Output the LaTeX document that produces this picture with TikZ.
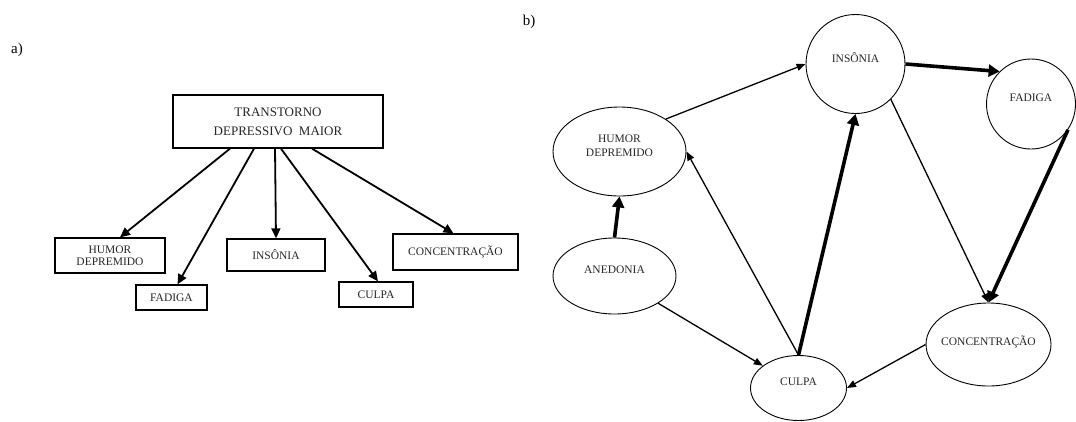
\documentclass[tikz,border=0pt]{standalone}
\usepackage{fontspec}
\setmainfont{Liberation Serif}
\usepackage{xcolor}
\definecolor{txtGray}{HTML}{262626}
\usepackage{tikz}
\usetikzlibrary{arrows.meta,shapes.geometric}

\begin{document}
\begin{tikzpicture}[x=1pt,y=-1pt,
    box/.style={draw, line width=1.3pt, rectangle, inner sep=0pt, align=center,
      text=txtGray, font=\fontsize{11.5}{12.5}\selectfont},
    oval/.style={draw, line width=0.9pt, ellipse, inner sep=0pt},
    lbl/.style={align=center, text=txtGray, font=\fontsize{11.5}{14}\selectfont, yshift=6pt},
    tree/.style={line width=1.8pt, -{Triangle[length=10pt,width=9pt]}},
    thin/.style={line width=1.3pt, -{Triangle[length=9pt,width=7pt]}},
    thick/.style={line width=3.6pt, -{Triangle[length=11pt,width=12pt]}}]
  \useasboundingbox (0,0) rectangle (1076,421);
  % panel labels
  \node[font=\fontsize{15}{16}\selectfont] (la) at (17,50) {a)};
  \node[font=\fontsize{15}{16}\selectfont] (lb) at (529,22) {b)};

  % a) the diagnosis and its symptoms
  \node[box, minimum width=210pt, minimum height=53pt, font=\fontsize{13}{19}\selectfont]
    (tdm) at (278,121.5) {TRANSTORNO\\DEPRESSIVO\ \ MAIOR};
  \node[box, minimum width=110pt, minimum height=35pt] (hdA)  at (110,255.5)   {HUMOR\\DEPREMIDO};
  \node[box, minimum width=71pt,  minimum height=25pt] (fadA) at (171.5,297.5) {FADIGA};
  \node[box, minimum width=98pt,  minimum height=32pt] (insA) at (276,255)     {INSÔNIA};
  \node[box, minimum width=74pt,  minimum height=25pt] (culA) at (376,294.5)   {CULPA};
  \node[box, minimum width=125pt, minimum height=36pt] (conA) at (455.5,252)   {CONCENTRAÇÃO};
  % arrows leave the bottom edge of the big box
  \draw[tree] ([xshift=-48pt]tdm.south) -- ([xshift=10pt]hdA.north);
  \draw[tree] ([xshift=-24pt]tdm.south) -- ([xshift=6pt]fadA.north);
  \draw[tree] ([xshift=-3pt]tdm.south)  -- (insA.north);
  \draw[tree] ([xshift=3pt]tdm.south)   -- ([xshift=2pt]culA.north);
  \draw[tree] ([xshift=34pt]tdm.south)  -- ([xshift=-2pt]conA.north);

  % b) network of symptoms
  \node[oval, minimum width=133pt, minimum height=89pt,
    label={[lbl]center:HUMOR\\DEPREMIDO}] (hd) at (619.5,151.5) {};
  \node[oval, minimum width=99pt, minimum height=99pt,
    label={[lbl]center:INSÔNIA}] (ins) at (855.5,64) {};
  \node[oval, minimum width=89pt, minimum height=90pt,
    label={[lbl]center:FADIGA}] (fad) at (1031,104) {};
  \node[oval, minimum width=123pt, minimum height=76pt,
    label={[lbl]center:ANEDONIA}] (ane) at (614.5,276) {};
  \node[oval, minimum width=96pt, minimum height=65pt,
    label={[lbl]center:CULPA}] (cul) at (798.5,388) {};
  \node[oval, minimum width=125pt, minimum height=83pt,
    label={[lbl, yshift=-3pt]center:CONCENTRAÇÃO}] (con) at (988.5,344.5) {};
  % edges
  \draw[thin]  (hd.35)   -- (ins.west);
  \draw[thick] (ins.east) -- (fad.134);
  \draw[thin]  (ins.-45) -- (con.north);
  \draw[thick] (fad.-35) -- (con.north);
  \draw[thick] (ane.north) -- (hd.south);
  \draw[thin]  (ane.-32) -- (cul.148);
  \draw[thin]  (cul.north) -- (hd.east);
  \draw[thick] (cul.north) -- (ins.south);
  \draw[thin]  (con.west) -- (cul.east);
\end{tikzpicture}
\end{document}
